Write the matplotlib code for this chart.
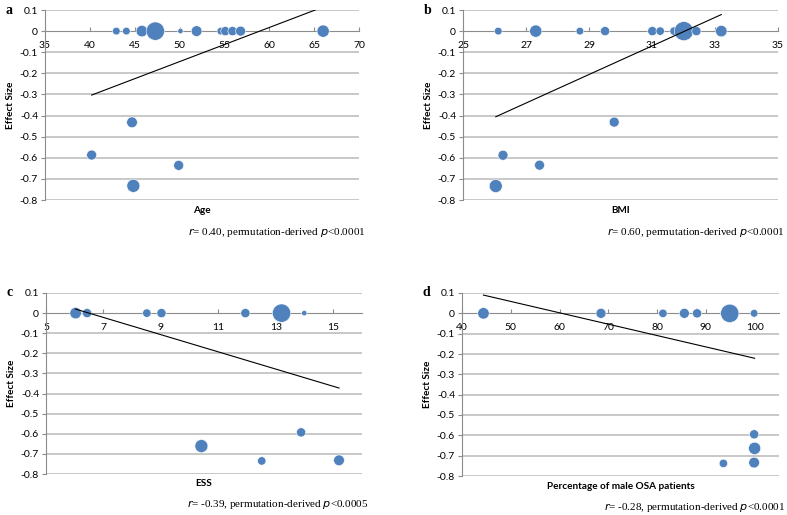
import matplotlib
matplotlib.use("Agg")
import matplotlib.pyplot as plt
import numpy as np

# panel a: age
age_x = [42.95, 44.07, 45.8, 47.3, 50.1, 51.9, 54.6, 55.1, 55.9, 56.8, 66.0,
         44.7, 40.2, 49.9, 44.85]
age_y = [0, 0, 0, 0, 0, 0, 0, 0, 0, 0, 0,
         -0.432, -0.587, -0.636, -0.733]
age_w = [10, 10, 15, 24, 7, 14, 10, 12, 12, 13, 16,
         14, 13, 13, 17]
age_fit = (-0.953, 0.01617)

# panel b: BMI
bmi_x = [26.12, 27.31, 28.71, 29.51, 31.01, 31.26, 31.70, 32.01, 32.41, 33.20,
         29.80, 26.27, 27.43, 26.04]
bmi_y = [0, 0, 0, 0, 0, 0, 0, 0, 0, 0,
         -0.431, -0.588, -0.635, -0.734]
bmi_w = [10, 16, 10, 12, 12, 11, 11, 25, 12, 15,
         13, 13, 13, 17]
bmi_fit = (-2.166, 0.0676)

# panel c: ESS
ess_x = [6.03, 6.43, 8.51, 9.02, 11.94, 13.20, 13.99,
         10.41, 13.88, 12.51, 15.20]
ess_y = [0, 0, 0, 0, 0, 0, 0,
         -0.661, -0.593, -0.735, -0.732]
ess_w = [15, 12, 11, 12, 12, 24, 7,
         17, 12, 11, 14]
ess_fit = (0.278, -0.0428)

# panel d: percentage of male patients
male_x = [44.4, 68.5, 81.2, 85.6, 88.2, 94.9, 99.9,
          99.9, 100.0, 93.6, 99.9]
male_y = [0, 0, 0, 0, 0, 0, 0,
          -0.595, -0.664, -0.738, -0.734]
male_w = [15, 13, 11, 13, 12, 24, 10,
          12, 16, 11, 14]
male_fit = (0.338, -0.00559)

panels = [
    ("a", "Age", age_x, age_y, age_w, age_fit, (35, 70), 5,
     "0.40", "p<0.0001"),
    ("b", "BMI", bmi_x, bmi_y, bmi_w, bmi_fit, (25, 35), 2,
     "0.60", "p<0.0001"),
    ("c", "ESS", ess_x, ess_y, ess_w, ess_fit, (5, 16), 2,
     "-0.39", "p<0.0005"),
    ("d", "Percentage of male OSA patients", male_x, male_y, male_w, male_fit,
     (40, 105), 10, "-0.28", "p<0.0001"),
]

W, H = 787, 515
boxes = [(45, 359, 10, 200), (463, 778, 10, 200),
         (46, 362, 293, 474), (462, 779, 293, 476)]

blue = "#4F81BD"
grid_c = "#c4c4c4"
axis_c = "#8c8c8c"
serif = "Liberation Serif"

plt.rcParams["font.family"] = ["Lato", "DejaVu Sans"]

fig = plt.figure(figsize=(W / 100, H / 100), dpi=100)

for (lab, xlabel, xs, ys, ws, fit, xlim, step, r, p), (l, rgt, t, b) in zip(panels, boxes):
    ax = fig.add_axes([l / W, 1 - b / H, (rgt - l) / W, (b - t) / H])
    ax.set_xlim(*xlim)
    ax.set_ylim(-0.8, 0.1)

    yt = np.round(np.arange(-0.8, 0.101, 0.1), 1)
    for v in yt:
        if abs(v) > 1e-9:
            ax.axhline(v, color=grid_c, lw=1.3, zorder=0)
    ax.set_yticks(yt)
    ax.set_yticklabels(["0" if abs(v) < 1e-9 else f"{v:.1f}" for v in yt])
    xt = np.arange(xlim[0], xlim[1] + 0.01, step)
    ax.set_xticks(xt)
    ax.set_xticklabels([f"{v:g}" for v in xt])

    for s in ["top", "right"]:
        ax.spines[s].set_visible(False)
    ax.spines["bottom"].set_position(("data", 0))
    ax.spines["bottom"].set_color(axis_c)
    ax.spines["left"].set_color(axis_c)
    ax.spines["bottom"].set_zorder(1)
    ax.tick_params(axis="x", direction="in", length=3, color=axis_c, pad=7,
                   labelsize=7.5)
    ax.tick_params(axis="y", direction="out", length=3, color=axis_c, pad=2,
                   labelsize=7.5)

    sizes = [(0.55 * w) ** 2 for w in ws]
    ax.scatter(xs, ys, s=sizes, color=blue, edgecolor="white", linewidth=0.4,
               zorder=3, clip_on=False)

    a0, a1 = fit
    fx = np.array([min(xs), max(xs)])
    ax.plot(fx, a0 + a1 * fx, color="black", lw=0.8, zorder=4)

    ax.text(-0.125, 1.0, lab, transform=ax.transAxes,
            family=serif, fontweight="bold", fontsize=10, va="center", ha="left")
    ax.text(-0.11, 0.5, "Effect Size", transform=ax.transAxes, rotation=90,
            fontweight="bold", fontsize=7.2, va="center", ha="center")
    ax.text(0.5, -0.055, xlabel, transform=ax.transAxes,
            fontweight="bold", fontsize=7.2, va="center", ha="center")
    ax.text(1.02, -0.17, "$\\it{r}$= " + r + ", permutation-derived $\\it{p}$" + p[1:],
            transform=ax.transAxes, family=serif, fontsize=8, va="center", ha="right")

fig.savefig("out.png", dpi=100)
